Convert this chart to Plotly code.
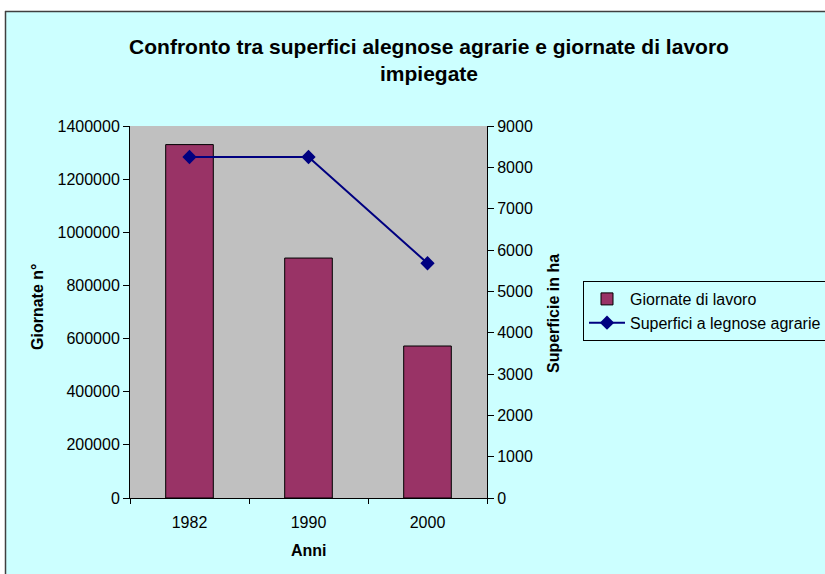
import plotly.graph_objects as go

# Dati
anni = ["1982", "1990", "2000"]
giornate = [1330000, 903000, 572000]
superfici = [8250, 8250, 5680]

W, H = 825, 574
L, R, T, B = 130, 487, 126, 498  # area del grafico in pixel

def px_x(p):
    return (p - L) / (R - L)

def px_y(p):
    return (B - p) / (B - T)

font = "Liberation Sans, Arial, sans-serif"

fig = go.Figure()
fig.add_trace(go.Bar(
    x=anni, y=giornate, name="Giornate di lavoro",
    marker=dict(color="#993366", line=dict(color="#000000", width=1)),
    yaxis="y",
))
fig.add_trace(go.Scatter(
    x=anni, y=superfici, name="Superfici a legnose agrarie",
    mode="lines+markers",
    line=dict(color="#000080", width=2),
    marker=dict(symbol="diamond", size=11, color="#000080"),
    yaxis="y2",
))

fig.update_layout(
    width=W, height=H,
    margin=dict(l=L, r=W - R, t=T, b=H - B, autoexpand=False),
    paper_bgcolor="#CCFFFF",
    plot_bgcolor="#C0C0C0",
    font=dict(family=font, size=16, color="#000000"),
    bargap=0.6,
    showlegend=True,
    title=dict(
        text="<b>Confronto tra superfici alegnose agrarie e giornate di lavoro<br>impiegate</b>",
        x=429 / W, xanchor="center", xref="container",
        y=1 - 54 / H, yanchor="middle", yref="container",
        font=dict(size=21, family=font),
    ),
    xaxis=dict(
        showline=True, linecolor="#000000", linewidth=1,
        ticks="outside", tickson="boundaries", ticklen=5, tickcolor="#000000",
        showgrid=False, tickfont=dict(size=16), ticklabelstandoff=10,
    ),
    yaxis=dict(
        range=[0, 1400000], dtick=200000, tickformat="d",
        showline=True, linecolor="#000000", linewidth=1,
        ticks="outside", ticklen=6, tickcolor="#000000",
        showgrid=False, zeroline=False, tickfont=dict(size=16),
    ),
    yaxis2=dict(
        range=[0, 9000], dtick=1000, tickformat="d",
        overlaying="y", side="right",
        showline=True, linecolor="#000000", linewidth=1,
        ticks="outside", ticklen=6, tickcolor="#000000",
        showgrid=False, zeroline=False, tickfont=dict(size=16),
    ),
    legend=dict(
        x=px_x(583), y=px_y(281), xanchor="left", yanchor="top",
        bgcolor="#CCFFFF", bordercolor="#000000", borderwidth=1,
        font=dict(size=16), tracegroupgap=0, itemwidth=36,
    ),
)

# Titoli degli assi
fig.add_annotation(text="<b>Giornate n°</b>", xref="paper", yref="paper",
                   x=px_x(37), y=px_y(307), textangle=-90, showarrow=False,
                   xanchor="center", yanchor="middle", font=dict(size=16))
fig.add_annotation(text="<b>Superficie in ha</b>", xref="paper", yref="paper",
                   x=px_x(553), y=px_y(314), textangle=-90, showarrow=False,
                   xanchor="center", yanchor="middle", font=dict(size=16))
fig.add_annotation(text="<b>Anni</b>", xref="paper", yref="paper",
                   x=px_x(309), y=px_y(550), showarrow=False,
                   xanchor="center", yanchor="middle", font=dict(size=16))

# Cornice esterna
fig.add_shape(type="rect", xref="paper", yref="paper",
              x0=px_x(-5), x1=px_x(W + 5), y0=px_y(0), y1=px_y(11),
              fillcolor="#FFFFFF", line=dict(width=0))
fig.add_shape(type="rect", xref="paper", yref="paper",
              x0=px_x(-5), x1=px_x(5), y0=px_y(H + 5), y1=px_y(0),
              fillcolor="#FFFFFF", line=dict(width=0))
fig.add_shape(type="line", xref="paper", yref="paper",
              x0=px_x(5), x1=px_x(W + 5), y0=px_y(11.5), y1=px_y(11.5),
              line=dict(color="#404040", width=1.5))
fig.add_shape(type="line", xref="paper", yref="paper",
              x0=px_x(5.5), x1=px_x(5.5), y0=px_y(11), y1=px_y(H + 5),
              line=dict(color="#404040", width=1.5))

fig.write_html("out.html")
